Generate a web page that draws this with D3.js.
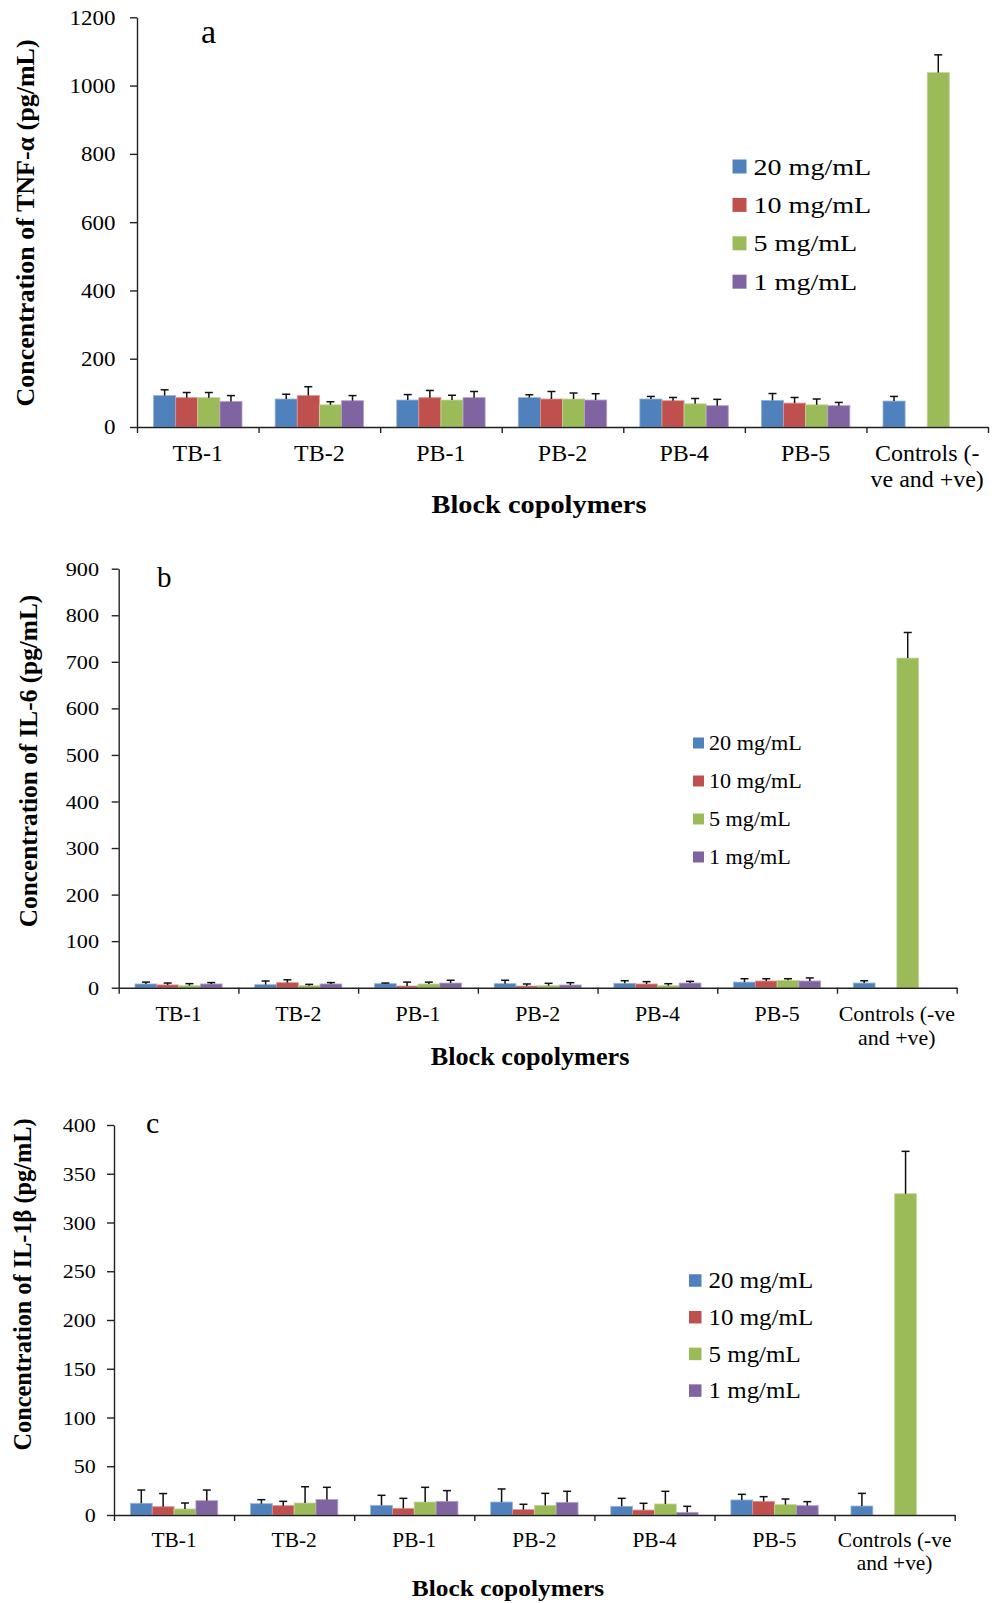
<!DOCTYPE html>
<html>
<head>
<meta charset="utf-8">
<script src="https://cdn.jsdelivr.net/npm/d3@7"></script>
<style>
  body { margin: 0; background: #fff; }
  svg { display: block; }
  text { font-family: "Liberation Serif", "Times New Roman", serif; fill: #000; }
</style>
</head>
<body>
<svg id="fig" width="992" height="1603"></svg>
<script>
// ---------- data ----------
const categories = ["TB-1", "TB-2", "PB-1", "PB-2", "PB-4", "PB-5", "Controls"];
const seriesNames = ["20 mg/mL", "10 mg/mL", "5 mg/mL", "1 mg/mL"];
const seriesColors = ["#4F81BD", "#C0504D", "#9BBB59", "#8064A2"];
const controlLabelA = ["Controls (-", "ve and +ve)"];
const controlLabelBC = ["Controls (-ve", "and +ve)"];

// rows = series (20, 10, 5, 1 mg/mL), columns = categories
const tnfMean = [
  [92, 82, 79, 86, 82, 78, 76],
  [86, 92, 86, 82, 77, 70, null],
  [86, 65, 79, 82, 68, 65, 1038],
  [75, 77, 86, 79, 62.5, 62.5, null]
];
const tnfErr = [
  [17, 14, 16, 8.5, 7.5, 20, 13.5],
  [15, 26, 21, 22, 9.5, 16.5, null],
  [15, 9, 14, 17.5, 15.5, 17, 52],
  [17, 15, 18, 18.5, 18.5, 9.5, null]
];
const tnfTicks = [0, 200, 400, 600, 800, 1000, 1200];

const il6Mean = [
  [8, 6.5, 8.6, 8.6, 9.4, 12, 10],
  [6, 10.8, 3.6, 3.6, 8, 14.4, null],
  [4.3, 4.3, 8, 4.3, 4.3, 15.8, 708],
  [8, 8, 10, 5.8, 10, 14.4, null]
];
const il6Err = [
  [4, 7.9, 1.4, 7.4, 5.6, 7.3, 5],
  [4, 6.2, 8.4, 4.4, 5, 4.9, null],
  [4.4, 2.9, 4, 5.1, 4.3, 3.5, 55],
  [3, 3, 6, 5, 3.6, 6.6, null]
];
const il6Ticks = [0, 100, 200, 300, 400, 500, 600, 700, 800, 900];

const il1bMean = [
  [12, 11.6, 9.9, 13.3, 8.9, 15.4, 9.2],
  [8.5, 9.6, 6.8, 5.5, 5.1, 14, null],
  [6.2, 12.3, 13.3, 9.9, 11.3, 10.6, 329.5],
  [14.7, 16, 14, 13, 2.7, 9.6, null]
];
const il1bErr = [
  [13.6, 4.1, 10.3, 13.4, 8.2, 5.8, 13],
  [13.5, 4.4, 10.3, 5.5, 6.9, 4.8, null],
  [6.1, 16.7, 15.1, 12.3, 13, 5.8, 43.5],
  [10.9, 12.4, 11, 11.3, 6.2, 4.1, null]
];
const il1bTicks = [0, 50, 100, 150, 200, 250, 300, 350, 400];

// ---------- layout of the three panels ----------
const panels = [
  {
    letter: "a", mean: tnfMean, err: tnfErr, ticks: tnfTicks,
    yTitle: "Concentration of TNF-\u03B1 (pg/mL)", control: controlLabelA,
    x0: 137, x1: 988, yTop: 17.3, yZero: 427,
    tick: { size: 20.5, sx: 1.12, gap: 21.5 },
    cat: { size: 23.5, sx: 1.02, base: 461, lh: 25.5 },
    leg: { x: 732.5, sw: 14, c0: 166.5, step: 38.4, size: 24, sx: 1.17, tx: 753.5 },
    yT: { x: 33.5, y: 223, size: 26 },
    xT: { x: 539, y: 513, size: 26, sx: 1.09 },
    lab: { x: 201, y: 43, size: 34 }
  },
  {
    letter: "b", mean: il6Mean, err: il6Err, ticks: il6Ticks,
    yTitle: "Concentration of IL-6 (pg/mL)", control: controlLabelBC,
    x0: 118.7, x1: 956.7, yTop: 568.7, yZero: 987.7,
    tick: { size: 19.5, sx: 1.14, gap: 19.7 },
    cat: { size: 21.5, sx: 1.02, base: 1020.5, lh: 24 },
    leg: { x: 693, sw: 11, c0: 743, step: 38, size: 21.5, sx: 1.03, tx: 709 },
    yT: { x: 37, y: 761, size: 25.3 },
    xT: { x: 530, y: 1064.5, size: 24.5, sx: 1.07 },
    lab: { x: 157, y: 587, size: 29 }
  },
  {
    letter: "c", mean: il1bMean, err: il1bErr, ticks: il1bTicks,
    yTitle: "Concentration of IL-1\u03B2 (pg/mL)", control: controlLabelBC,
    x0: 114, x1: 954.7, yTop: 1125, yZero: 1515,
    tick: { size: 19.5, sx: 1.13, gap: 18.3 },
    cat: { size: 21, sx: 1.02, base: 1546.7, lh: 23.5 },
    leg: { x: 689, sw: 12.5, c0: 1280.5, step: 36.7, size: 22.5, sx: 1.11, tx: 708.5 },
    yT: { x: 30.5, y: 1284.5, size: 24.3 },
    xT: { x: 508, y: 1596, size: 23.5, sx: 1.08 },
    lab: { x: 146, y: 1133, size: 30 }
  }
];

const svg = d3.select("#fig");

function label(g, x, y, str, size, sx, anchor, weight) {
  return g.append("text")
    .attr("transform", `translate(${x},${y}) scale(${sx},1)`)
    .attr("text-anchor", anchor)
    .attr("font-size", size)
    .attr("font-weight", weight || "normal")
    .text(str);
}

panels.forEach(p => {
  const g = svg.append("g").attr("class", "panel-" + p.letter);
  const yMax = p.ticks[p.ticks.length - 1];

  const x = d3.scaleBand().domain(categories).range([p.x0, p.x1]).padding(0);
  const xs = d3.scaleBand().domain(seriesNames).range([0, x.bandwidth()])
    .paddingInner(0).paddingOuter(0.75);
  const y = d3.scaleLinear().domain([0, yMax]).range([p.yZero, p.yTop]);
  const edges = d3.scaleLinear().domain([0, categories.length]).range([p.x0, p.x1]);

  // bars
  seriesNames.forEach((s, si) => {
    categories.forEach((c, ci) => {
      const v = p.mean[si][ci];
      if (v == null) return;
      const bx = x(c) + xs(s);
      g.append("rect")
        .attr("x", bx)
        .attr("y", y(v))
        .attr("width", xs.bandwidth())
        .attr("height", y(0) - y(v))
        .attr("fill", seriesColors[si])
        .attr("stroke", d3.interpolateRgb(seriesColors[si], "#fff")(0.4))
        .attr("stroke-width", 0.8);
    });
  });

  // error bars (upper side only)
  seriesNames.forEach((s, si) => {
    categories.forEach((c, ci) => {
      const v = p.mean[si][ci], e = p.err[si][ci];
      if (v == null || e == null) return;
      const cx = x(c) + xs(s) + xs.bandwidth() / 2;
      g.append("line")
        .attr("x1", cx).attr("x2", cx)
        .attr("y1", y(v)).attr("y2", y(v + e))
        .attr("stroke", "#111").attr("stroke-width", 1.5);
      g.append("line")
        .attr("x1", cx - 4).attr("x2", cx + 4)
        .attr("y1", y(v + e)).attr("y2", y(v + e))
        .attr("stroke", "#111").attr("stroke-width", 1.5);
    });
  });

  // y axis
  const yAxis = g.append("g")
    .attr("transform", `translate(${p.x0},0)`)
    .call(d3.axisLeft(y).tickValues(p.ticks).tickSize(7).tickSizeOuter(0).tickFormat(d3.format("d")));
  yAxis.select(".domain").attr("stroke", "#222").attr("stroke-width", 1.4);
  yAxis.selectAll(".tick line").attr("stroke", "#222").attr("stroke-width", 1.4);
  yAxis.selectAll(".tick text")
    .attr("x", null).attr("dy", null)
    .attr("transform", `translate(${-p.tick.gap},${p.tick.size * 0.34}) scale(${p.tick.sx},1)`)
    .attr("text-anchor", "end")
    .attr("font-size", p.tick.size)
    .attr("font-family", "Liberation Serif, Times New Roman, serif")
    .attr("fill", "#000");

  // x axis with ticks at category edges
  const xAxis = g.append("g")
    .attr("transform", `translate(0,${p.yZero})`)
    .call(d3.axisBottom(edges).tickValues(d3.range(categories.length + 1)).tickSize(6).tickSizeOuter(0).tickFormat(""));
  xAxis.select(".domain").attr("stroke", "#222").attr("stroke-width", 1.4);
  xAxis.selectAll(".tick line").attr("stroke", "#222").attr("stroke-width", 1.4);

  // category labels
  categories.forEach((c, ci) => {
    const lines = ci === categories.length - 1 ? p.control : [c];
    const cx = x(c) + x.bandwidth() / 2;
    lines.forEach((ln, li) => {
      label(g, cx, p.cat.base + li * p.cat.lh, ln, p.cat.size, p.cat.sx, "middle");
    });
  });

  // axis titles
  g.append("text")
    .attr("transform", `translate(${p.yT.x},${p.yT.y}) rotate(-90)`)
    .attr("text-anchor", "middle")
    .attr("font-size", p.yT.size)
    .attr("font-weight", "bold")
    .text(p.yTitle);
  label(g, p.xT.x, p.xT.y, "Block copolymers", p.xT.size, p.xT.sx, "middle", "bold");

  // panel letter
  label(g, p.lab.x, p.lab.y, p.letter, p.lab.size, 1, "start");

  // legend
  seriesNames.forEach((s, si) => {
    const cy = p.leg.c0 + si * p.leg.step;
    g.append("rect")
      .attr("x", p.leg.x).attr("y", cy - p.leg.sw / 2)
      .attr("width", p.leg.sw).attr("height", p.leg.sw)
      .attr("fill", seriesColors[si]);
    label(g, p.leg.tx, cy + p.leg.size * 0.34, s, p.leg.size, p.leg.sx, "start");
  });
});
</script>
</body>
</html>
